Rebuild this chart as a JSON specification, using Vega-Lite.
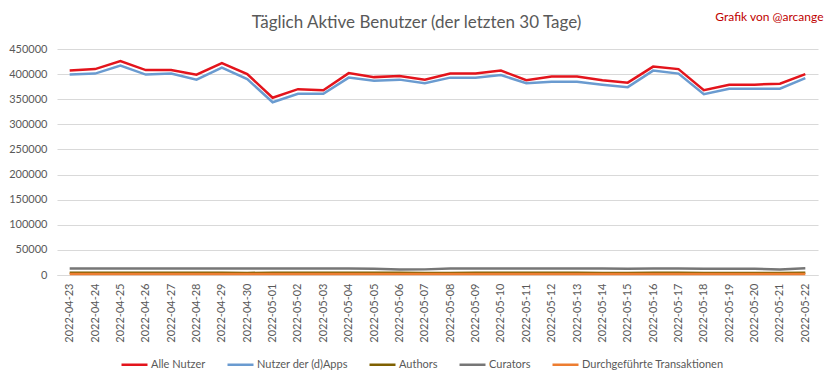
{
  "$schema": "https://vega.github.io/schema/vega-lite/v6.json",
  "width": 761,
  "height": 226,
  "autosize": {"type": "none"},
  "padding": {"left": 57, "top": 49, "right": 15, "bottom": 104},
  "background": "white",
  "title": {"text": "Täglich Aktive Benutzer (der letzten 30 Tage)", "font": "Lato", "fontSize": 17, "fontWeight": "normal", "color": "#595959", "anchor": "middle", "frame": "group", "dx": -21, "dy": 40, "offset": 18},
  "config": {"view": {"stroke": null}, "font": "Lato"},
  "datasets": {
    "daily": [
      {"date": "2022-04-23", "series": "Alle Nutzer", "value": 407000},
      {"date": "2022-04-24", "series": "Alle Nutzer", "value": 410000},
      {"date": "2022-04-25", "series": "Alle Nutzer", "value": 426000},
      {"date": "2022-04-26", "series": "Alle Nutzer", "value": 408000},
      {"date": "2022-04-27", "series": "Alle Nutzer", "value": 408000},
      {"date": "2022-04-28", "series": "Alle Nutzer", "value": 399000},
      {"date": "2022-04-29", "series": "Alle Nutzer", "value": 422000},
      {"date": "2022-04-30", "series": "Alle Nutzer", "value": 400000},
      {"date": "2022-05-01", "series": "Alle Nutzer", "value": 353000},
      {"date": "2022-05-02", "series": "Alle Nutzer", "value": 370000},
      {"date": "2022-05-03", "series": "Alle Nutzer", "value": 368000},
      {"date": "2022-05-04", "series": "Alle Nutzer", "value": 402000},
      {"date": "2022-05-05", "series": "Alle Nutzer", "value": 394000},
      {"date": "2022-05-06", "series": "Alle Nutzer", "value": 396000},
      {"date": "2022-05-07", "series": "Alle Nutzer", "value": 389000},
      {"date": "2022-05-08", "series": "Alle Nutzer", "value": 401000},
      {"date": "2022-05-09", "series": "Alle Nutzer", "value": 401000},
      {"date": "2022-05-10", "series": "Alle Nutzer", "value": 407000},
      {"date": "2022-05-11", "series": "Alle Nutzer", "value": 388000},
      {"date": "2022-05-12", "series": "Alle Nutzer", "value": 395000},
      {"date": "2022-05-13", "series": "Alle Nutzer", "value": 395000},
      {"date": "2022-05-14", "series": "Alle Nutzer", "value": 388000},
      {"date": "2022-05-15", "series": "Alle Nutzer", "value": 383000},
      {"date": "2022-05-16", "series": "Alle Nutzer", "value": 415000},
      {"date": "2022-05-17", "series": "Alle Nutzer", "value": 410000},
      {"date": "2022-05-18", "series": "Alle Nutzer", "value": 368000},
      {"date": "2022-05-19", "series": "Alle Nutzer", "value": 379000},
      {"date": "2022-05-20", "series": "Alle Nutzer", "value": 379000},
      {"date": "2022-05-21", "series": "Alle Nutzer", "value": 381000},
      {"date": "2022-05-22", "series": "Alle Nutzer", "value": 400000},
      {"date": "2022-04-23", "series": "Nutzer der (d)Apps", "value": 399000},
      {"date": "2022-04-24", "series": "Nutzer der (d)Apps", "value": 401000},
      {"date": "2022-04-25", "series": "Nutzer der (d)Apps", "value": 417000},
      {"date": "2022-04-26", "series": "Nutzer der (d)Apps", "value": 399000},
      {"date": "2022-04-27", "series": "Nutzer der (d)Apps", "value": 401000},
      {"date": "2022-04-28", "series": "Nutzer der (d)Apps", "value": 389000},
      {"date": "2022-04-29", "series": "Nutzer der (d)Apps", "value": 413000},
      {"date": "2022-04-30", "series": "Nutzer der (d)Apps", "value": 390000},
      {"date": "2022-05-01", "series": "Nutzer der (d)Apps", "value": 344000},
      {"date": "2022-05-02", "series": "Nutzer der (d)Apps", "value": 361000},
      {"date": "2022-05-03", "series": "Nutzer der (d)Apps", "value": 361000},
      {"date": "2022-05-04", "series": "Nutzer der (d)Apps", "value": 393000},
      {"date": "2022-05-05", "series": "Nutzer der (d)Apps", "value": 387000},
      {"date": "2022-05-06", "series": "Nutzer der (d)Apps", "value": 389000},
      {"date": "2022-05-07", "series": "Nutzer der (d)Apps", "value": 382000},
      {"date": "2022-05-08", "series": "Nutzer der (d)Apps", "value": 393000},
      {"date": "2022-05-09", "series": "Nutzer der (d)Apps", "value": 393000},
      {"date": "2022-05-10", "series": "Nutzer der (d)Apps", "value": 398000},
      {"date": "2022-05-11", "series": "Nutzer der (d)Apps", "value": 382000},
      {"date": "2022-05-12", "series": "Nutzer der (d)Apps", "value": 385000},
      {"date": "2022-05-13", "series": "Nutzer der (d)Apps", "value": 385000},
      {"date": "2022-05-14", "series": "Nutzer der (d)Apps", "value": 379000},
      {"date": "2022-05-15", "series": "Nutzer der (d)Apps", "value": 374000},
      {"date": "2022-05-16", "series": "Nutzer der (d)Apps", "value": 407000},
      {"date": "2022-05-17", "series": "Nutzer der (d)Apps", "value": 401000},
      {"date": "2022-05-18", "series": "Nutzer der (d)Apps", "value": 360000},
      {"date": "2022-05-19", "series": "Nutzer der (d)Apps", "value": 371000},
      {"date": "2022-05-20", "series": "Nutzer der (d)Apps", "value": 371000},
      {"date": "2022-05-21", "series": "Nutzer der (d)Apps", "value": 371000},
      {"date": "2022-05-22", "series": "Nutzer der (d)Apps", "value": 392000},
      {"date": "2022-04-23", "series": "Authors", "value": 4600},
      {"date": "2022-04-24", "series": "Authors", "value": 4500},
      {"date": "2022-04-25", "series": "Authors", "value": 4700},
      {"date": "2022-04-26", "series": "Authors", "value": 4500},
      {"date": "2022-04-27", "series": "Authors", "value": 4500},
      {"date": "2022-04-28", "series": "Authors", "value": 4300},
      {"date": "2022-04-29", "series": "Authors", "value": 4500},
      {"date": "2022-04-30", "series": "Authors", "value": 4200},
      {"date": "2022-05-01", "series": "Authors", "value": 4300},
      {"date": "2022-05-02", "series": "Authors", "value": 4500},
      {"date": "2022-05-03", "series": "Authors", "value": 4500},
      {"date": "2022-05-04", "series": "Authors", "value": 4600},
      {"date": "2022-05-05", "series": "Authors", "value": 4500},
      {"date": "2022-05-06", "series": "Authors", "value": 4300},
      {"date": "2022-05-07", "series": "Authors", "value": 4000},
      {"date": "2022-05-08", "series": "Authors", "value": 4200},
      {"date": "2022-05-09", "series": "Authors", "value": 4500},
      {"date": "2022-05-10", "series": "Authors", "value": 4500},
      {"date": "2022-05-11", "series": "Authors", "value": 4400},
      {"date": "2022-05-12", "series": "Authors", "value": 4500},
      {"date": "2022-05-13", "series": "Authors", "value": 4400},
      {"date": "2022-05-14", "series": "Authors", "value": 4100},
      {"date": "2022-05-15", "series": "Authors", "value": 4000},
      {"date": "2022-05-16", "series": "Authors", "value": 4400},
      {"date": "2022-05-17", "series": "Authors", "value": 4400},
      {"date": "2022-05-18", "series": "Authors", "value": 4200},
      {"date": "2022-05-19", "series": "Authors", "value": 4200},
      {"date": "2022-05-20", "series": "Authors", "value": 4100},
      {"date": "2022-05-21", "series": "Authors", "value": 4000},
      {"date": "2022-05-22", "series": "Authors", "value": 4300},
      {"date": "2022-04-23", "series": "Curators", "value": 13000},
      {"date": "2022-04-24", "series": "Curators", "value": 13000},
      {"date": "2022-04-25", "series": "Curators", "value": 13100},
      {"date": "2022-04-26", "series": "Curators", "value": 13000},
      {"date": "2022-04-27", "series": "Curators", "value": 13000},
      {"date": "2022-04-28", "series": "Curators", "value": 12900},
      {"date": "2022-04-29", "series": "Curators", "value": 13000},
      {"date": "2022-04-30", "series": "Curators", "value": 12900},
      {"date": "2022-05-01", "series": "Curators", "value": 12900},
      {"date": "2022-05-02", "series": "Curators", "value": 13000},
      {"date": "2022-05-03", "series": "Curators", "value": 13000},
      {"date": "2022-05-04", "series": "Curators", "value": 13000},
      {"date": "2022-05-05", "series": "Curators", "value": 12500},
      {"date": "2022-05-06", "series": "Curators", "value": 11000},
      {"date": "2022-05-07", "series": "Curators", "value": 11200},
      {"date": "2022-05-08", "series": "Curators", "value": 13000},
      {"date": "2022-05-09", "series": "Curators", "value": 13000},
      {"date": "2022-05-10", "series": "Curators", "value": 13000},
      {"date": "2022-05-11", "series": "Curators", "value": 12900},
      {"date": "2022-05-12", "series": "Curators", "value": 13000},
      {"date": "2022-05-13", "series": "Curators", "value": 13000},
      {"date": "2022-05-14", "series": "Curators", "value": 12800},
      {"date": "2022-05-15", "series": "Curators", "value": 12600},
      {"date": "2022-05-16", "series": "Curators", "value": 13000},
      {"date": "2022-05-17", "series": "Curators", "value": 13000},
      {"date": "2022-05-18", "series": "Curators", "value": 12600},
      {"date": "2022-05-19", "series": "Curators", "value": 12600},
      {"date": "2022-05-20", "series": "Curators", "value": 12300},
      {"date": "2022-05-21", "series": "Curators", "value": 11000},
      {"date": "2022-05-22", "series": "Curators", "value": 13500},
      {"date": "2022-04-23", "series": "Durchgeführte Transaktionen", "value": 2000},
      {"date": "2022-04-24", "series": "Durchgeführte Transaktionen", "value": 2000},
      {"date": "2022-04-25", "series": "Durchgeführte Transaktionen", "value": 2100},
      {"date": "2022-04-26", "series": "Durchgeführte Transaktionen", "value": 2000},
      {"date": "2022-04-27", "series": "Durchgeführte Transaktionen", "value": 2000},
      {"date": "2022-04-28", "series": "Durchgeführte Transaktionen", "value": 1900},
      {"date": "2022-04-29", "series": "Durchgeführte Transaktionen", "value": 2000},
      {"date": "2022-04-30", "series": "Durchgeführte Transaktionen", "value": 1900},
      {"date": "2022-05-01", "series": "Durchgeführte Transaktionen", "value": 1800},
      {"date": "2022-05-02", "series": "Durchgeführte Transaktionen", "value": 1900},
      {"date": "2022-05-03", "series": "Durchgeführte Transaktionen", "value": 1900},
      {"date": "2022-05-04", "series": "Durchgeführte Transaktionen", "value": 2000},
      {"date": "2022-05-05", "series": "Durchgeführte Transaktionen", "value": 2000},
      {"date": "2022-05-06", "series": "Durchgeführte Transaktionen", "value": 2000},
      {"date": "2022-05-07", "series": "Durchgeführte Transaktionen", "value": 1900},
      {"date": "2022-05-08", "series": "Durchgeführte Transaktionen", "value": 2000},
      {"date": "2022-05-09", "series": "Durchgeführte Transaktionen", "value": 2000},
      {"date": "2022-05-10", "series": "Durchgeführte Transaktionen", "value": 2000},
      {"date": "2022-05-11", "series": "Durchgeführte Transaktionen", "value": 1900},
      {"date": "2022-05-12", "series": "Durchgeführte Transaktionen", "value": 2000},
      {"date": "2022-05-13", "series": "Durchgeführte Transaktionen", "value": 2000},
      {"date": "2022-05-14", "series": "Durchgeführte Transaktionen", "value": 1900},
      {"date": "2022-05-15", "series": "Durchgeführte Transaktionen", "value": 1900},
      {"date": "2022-05-16", "series": "Durchgeführte Transaktionen", "value": 2000},
      {"date": "2022-05-17", "series": "Durchgeführte Transaktionen", "value": 2000},
      {"date": "2022-05-18", "series": "Durchgeführte Transaktionen", "value": 1900},
      {"date": "2022-05-19", "series": "Durchgeführte Transaktionen", "value": 1900},
      {"date": "2022-05-20", "series": "Durchgeführte Transaktionen", "value": 1900},
      {"date": "2022-05-21", "series": "Durchgeführte Transaktionen", "value": 1900},
      {"date": "2022-05-22", "series": "Durchgeführte Transaktionen", "value": 2000}
    ]
  },
  "data": {"name": "daily"},
  "mark": {"type": "line", "strokeWidth": 2.5, "clip": false},
  "encoding": {
    "x": {
      "field": "date", "type": "ordinal", "sort": null,
      "scale": {"type": "point", "padding": 0.5},
      "axis": {
        "labelAngle": -90, "labelFont": "Lato", "labelFontSize": 11, "labelColor": "#595959", "labelPadding": 8,
        "ticks": false, "domain": true, "domainColor": "#D9D9D9", "grid": false,
        "title": "Grafik von @arcange", "titleFont": "Lato", "titleFontSize": 12, "titleFontWeight": "normal", "titleColor": "#C00000",
        "titleX": 766, "titleY": -259, "titleAlign": "right", "titleBaseline": "middle", "titleAngle": 0
      }
    },
    "y": {
      "field": "value", "type": "quantitative",
      "scale": {"domain": [0, 450000], "nice": false},
      "axis": {
        "values": [0, 50000, 100000, 150000, 200000, 250000, 300000, 350000, 400000, 450000],
        "format": "d", "labelFont": "Lato", "labelFontSize": 11, "labelColor": "#595959", "labelPadding": 10,
        "ticks": false, "domain": false, "grid": true, "gridColor": "#D9D9D9", "gridWidth": 1, "title": null
      }
    },
    "color": {
      "field": "series", "type": "nominal",
      "scale": {
        "domain": ["Alle Nutzer", "Nutzer der (d)Apps", "Authors", "Curators", "Durchgeführte Transaktionen"],
        "range": ["#E3141C", "#6A9BD0", "#7F6000", "#767676", "#ED7D31"]
      },
      "legend": {
        "title": null, "orient": "none", "direction": "horizontal", "legendX": 63, "legendY": 301,
        "symbolType": "stroke", "symbolSize": 676, "symbolStrokeWidth": 2.5,
        "labelFont": "Lato", "labelFontSize": 11, "labelColor": "#595959", "labelOffset": 2,
        "columnPadding": 16, "padding": 0
      }
    }
  }
}
